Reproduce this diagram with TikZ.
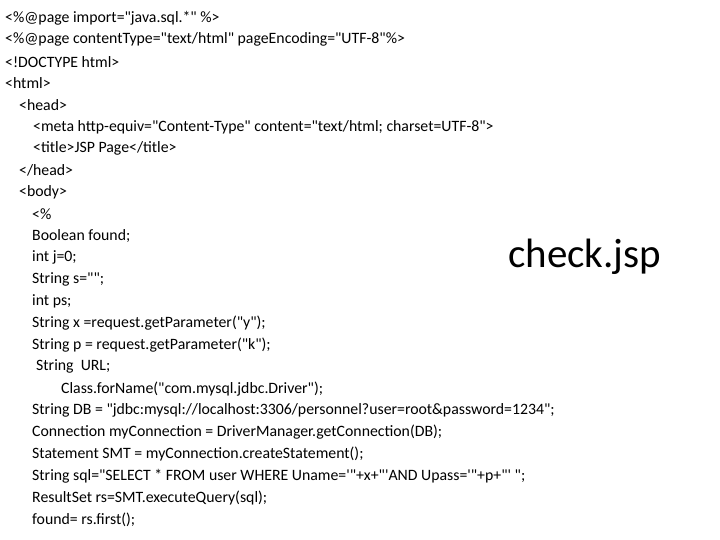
\documentclass[tikz,border=0pt]{standalone}
\usepackage{fontspec}
\setmainfont{Carlito}[Ligatures=TeXOff]
\begin{document}
\begin{tikzpicture}[x=1pt,y=1pt,ln/.style={anchor=west,inner sep=0pt,font=\fontsize{15.8}{18}\selectfont}]
\useasboundingbox (0,0) rectangle (720,540);
\def\ys{21.8}
\node[ln] (l1) at (5,522) {<\%@page import="java.sql.*" \%>};
\node[ln] (l2) at (5,522-1*\ys) {<\%@page contentType="text/html" pageEncoding="UTF-8"\%>};
\node[ln] (l3) at (5,522-2*\ys) {<!DOCTYPE html>};
\node[ln] (l4) at (5,522-3*\ys) {<html>};
\node[ln] (l5) at (19,522-4*\ys) {<head>};
\node[ln] (l6) at (33,522-5*\ys) {<meta http-equiv="Content-Type" content="text/html; charset=UTF-8">};
\node[ln] (l7) at (33,522-6*\ys) {<title>JSP Page</title>};
\node[ln] (l8) at (19,522-7*\ys) {</head>};
\node[ln] (l9) at (19,522-8*\ys) {<body>};
\node[ln] (l10) at (32,522-9*\ys) {<\%};
\node[ln] (l11) at (32,522-10*\ys) {Boolean found;};
\node[ln] (l12) at (32,522-11*\ys) {int j=0;};
\node[ln] (l13) at (32,522-12*\ys) {String s="";};
\node[ln] (l14) at (32,522-13*\ys) {int ps;};
\node[ln] (l15) at (32,522-14*\ys) {String x =request.getParameter("y");};
\node[ln] (l16) at (32,522-15*\ys) {String p = request.getParameter("k");};
\node[ln] (l17) at (36,522-16*\ys) {String\ \ URL;};
\node[ln] (l18) at (61,522-17*\ys) {Class.forName("com.mysql.jdbc.Driver");};
\node[ln] (l19) at (32,522-18*\ys) {String DB = "jdbc:mysql://localhost:3306/personnel?user=root\&password=1234";};
\node[ln] (l20) at (32,522-19*\ys) {Connection myConnection = DriverManager.getConnection(DB);};
\node[ln] (l21) at (32,522-20*\ys) {Statement SMT = myConnection.createStatement();};
\node[ln] (l22) at (32,522-21*\ys) {String sql="SELECT * FROM user WHERE Uname='"+x+"'AND Upass='"+p+"' ";};
\node[ln] (l23) at (32,522-22*\ys) {ResultSet rs=SMT.executeQuery(sql);};
\node[ln] (l24) at (32,522-23*\ys) {found= rs.first();};
\node[ln] (t) at (508,283) {\fontsize{41}{45}\selectfont check.jsp};
\end{tikzpicture}
\end{document}
